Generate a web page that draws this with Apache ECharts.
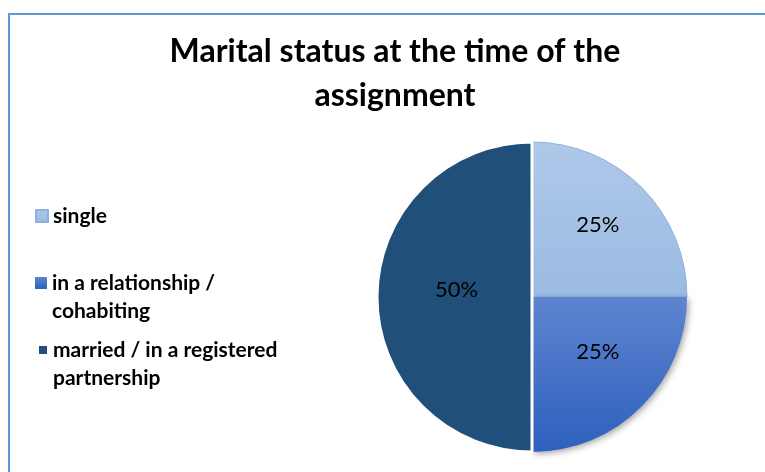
<!DOCTYPE html>
<html>
<head>
<meta charset="utf-8">
<script src="https://cdn.jsdelivr.net/npm/echarts@6/dist/echarts.min.js"></script>
<style>
html,body{margin:0;padding:0;background:#fff;}
#chart{width:765px;height:472px;}
</style>
</head>
<body>
<div id="chart"></div>
<script>
const titleText = 'Marital status at the time of the\nassignment';
const categories = ['single', 'in a relationship / cohabiting', 'married / in a registered partnership'];
const legendLabels = ['single', 'in a relationship /\ncohabiting', 'married / in a registered\npartnership'];
const values = [25, 25, 50];

const chart = echarts.init(document.getElementById('chart'), null, {renderer: 'canvas'});

const grad = (a, b) => new echarts.graphic.LinearGradient(0, 0, 0, 1, [{offset: 0, color: a}, {offset: 1, color: b}]);
const sliceStyles = [
  {color: grad('#AEC8E9', '#9BBBE2'), borderColor: '#8DB0DE', borderWidth: 1},
  {color: grad('#5E84CF', '#2E60BE'), shadowBlur: 6, shadowColor: 'rgba(0,0,0,0.35)', shadowOffsetX: 2, shadowOffsetY: 2},
  {color: '#204F79', borderColor: '#ffffff', borderWidth: 3}
];
// vertical nudge of each slice label (line height of a trailing blank line) and horizontal nudge
const labelLift = [30, 4, 14];
const labelPadsX = [[0, 0, 0, 18], [0, 0, 0, 18], [0, 0, 0, 10]];
const legendColors = ['#A6C3E7', '#4472C4', '#1F4E79'];
const legendTops = [202, 241, 308];
const legendIcon = [12, 12, 10];

const legendFont = {fontFamily: 'Lato', fontWeight: 'bold', fontSize: 21, color: '#000', lineHeight: 28};

const legends = categories.map((c, i) => ({
  orient: 'vertical',
  left: i === 2 ? 37 : 35,
  top: legendTops[i],
  padding: 0,
  itemWidth: legendIcon[i],
  itemHeight: legendIcon[i],
  icon: 'rect',
  data: [c],
  formatter: () => (i === 0 ? '' : '\n') + legendLabels[i],
  textStyle: legendFont
}));

chart.setOption({
  animation: false,
  color: legendColors,
  title: {
    text: titleText,
    left: 395,
    top: 30,
    textAlign: 'center',
    padding: 0,
    textStyle: {fontFamily: 'Lato', fontWeight: 'bold', fontSize: 32, color: '#000', lineHeight: 44}
  },
  legend: legends,
  graphic: [{
    type: 'rect',
    shape: {x: 9, y: 14, width: 900, height: 600},
    style: {fill: 'none', stroke: '#5B9BD5', lineWidth: 2},
    silent: true
  }],
  series: [{
    type: 'pie',
    center: [532, 297],
    radius: [0, 155],
    startAngle: 90,
    clockwise: true,
    label: {
      show: true,
      position: 'inside',
      formatter: '{d}%\n',
      fontFamily: 'Lato',
      fontSize: 22,
      color: '#000'
    },
    labelLine: {show: false},
    emphasis: {disabled: true},
    data: categories.map((c, i) => ({
      name: c,
      value: values[i],
      itemStyle: sliceStyles[i],
      label: {padding: labelPadsX[i], lineHeight: labelLift[i]}
    }))
  }]
});
</script>
</body>
</html>
